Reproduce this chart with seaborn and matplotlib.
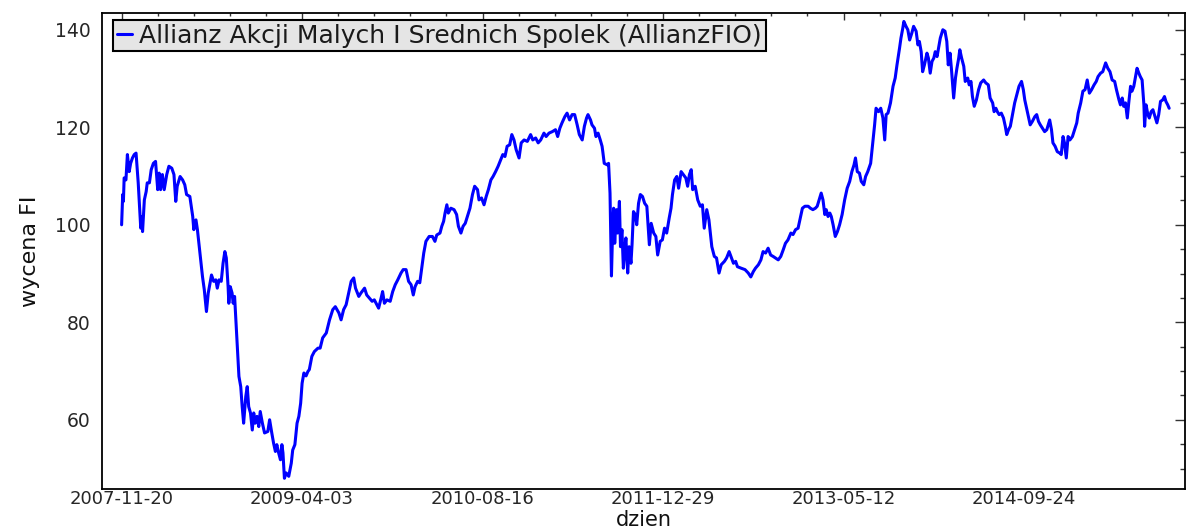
import matplotlib
matplotlib.use("Agg")
import matplotlib.pyplot as plt
import matplotlib.dates as mdates
from matplotlib.ticker import FixedLocator, MultipleLocator
import seaborn as sns
import pandas as pd

# wycena funduszu: dni od startu i wartosc
start = "2007-11-20"
dni = [
    0, 3, 5, 7, 12, 16, 21, 25, 30, 35, 40, 46, 53, 57, 58, 63, 68, 71, 77, 82,
    88, 94, 100, 104, 108, 113, 118, 125, 131, 139, 145, 150, 154, 162, 169, 175, 180, 189, 197, 200,
    206, 210, 217, 224, 229, 235, 240, 244, 249, 255, 261, 265, 270, 276, 281, 286, 290, 295, 297, 301,
    306, 309, 313, 318, 322, 325, 330, 334, 338, 344, 348, 352, 357, 362, 366, 370, 375, 380, 384, 390,
    396, 405, 410, 416, 421, 426, 430, 435, 440, 444, 447, 451, 456, 463, 470, 474, 480, 486, 491, 496,
    500, 505, 511, 516, 520, 527, 534, 544, 550, 557, 567, 576, 585, 592, 602, 608, 615, 622, 629, 636,
    643, 648, 657, 663, 673, 679, 686, 694, 700, 707, 712, 719, 723, 728, 735, 744, 751, 758, 765, 774,
    780, 788, 795, 802, 808, 813, 820, 826, 832, 837, 843, 852, 861, 868, 873, 882, 887, 892, 896, 901,
    905, 912, 921, 928, 933, 940, 946, 952, 958, 965, 972, 978, 986, 990, 997, 1004, 1010, 1016, 1023, 1029,
    1036, 1043, 1050, 1056, 1062, 1068, 1075, 1081, 1087, 1093, 1101, 1107, 1115, 1124, 1133, 1139, 1147, 1154, 1161, 1170,
    1176, 1184, 1193, 1202, 1208, 1214, 1220, 1228, 1234, 1241, 1248, 1255, 1262, 1268, 1276, 1282, 1288, 1292, 1299, 1303,
    1310, 1314, 1320, 1326, 1331, 1333, 1337, 1345, 1349, 1353, 1357, 1360, 1363, 1366, 1371, 1374, 1379, 1382, 1386, 1390,
    1393, 1397, 1402, 1406, 1411, 1414, 1418, 1423, 1427, 1432, 1437, 1443, 1449, 1455, 1462, 1467, 1474, 1480, 1485, 1492,
    1498, 1504, 1510, 1517, 1522, 1526, 1532, 1538, 1543, 1550, 1556, 1563, 1568, 1573, 1578, 1582, 1589, 1596, 1603, 1609,
    1614, 1621, 1627, 1635, 1642, 1648, 1655, 1661, 1670, 1676, 1683, 1688, 1695, 1701, 1706, 1716, 1727, 1736, 1743, 1750,
    1756, 1764, 1771, 1777, 1784, 1791, 1798, 1805, 1811, 1819, 1826, 1833, 1839, 1846, 1854, 1860, 1867, 1874, 1880, 1886,
    1893, 1902, 1908, 1915, 1922, 1927, 1934, 1938, 1943, 1948, 1952, 1957, 1962, 1966, 1971, 1977, 1983, 1989, 1996, 2003,
    2010, 2017, 2023, 2029, 2033, 2038, 2044, 2049, 2056, 2061, 2067, 2075, 2081, 2086, 2090, 2097, 2103, 2109, 2114, 2118,
    2123, 2130, 2137, 2143, 2148, 2155, 2159, 2164, 2167, 2173, 2178, 2183, 2189, 2194, 2201, 2206, 2210, 2215, 2219, 2224,
    2231, 2235, 2240, 2245, 2250, 2254, 2259, 2264, 2268, 2275, 2281, 2286, 2290, 2295, 2299, 2305, 2310, 2314, 2319, 2322,
    2327, 2333, 2337, 2344, 2348, 2353, 2357, 2362, 2368, 2374, 2380, 2388, 2394, 2401, 2406, 2413, 2417, 2422, 2426, 2431,
    2437, 2443, 2448, 2452, 2457, 2462, 2468, 2474, 2480, 2486, 2493, 2498, 2502, 2507, 2511, 2517, 2523, 2530, 2535, 2540,
    2545, 2551, 2557, 2563, 2567, 2571, 2576, 2580, 2586, 2592, 2599, 2603, 2608, 2612, 2617, 2622, 2627, 2634, 2640, 2646,
    2650, 2657, 2663, 2669, 2675, 2681, 2687, 2694, 2700, 2705, 2712, 2718, 2726, 2732, 2738, 2744, 2751, 2756, 2763, 2767,
    2772, 2776, 2781, 2786, 2790, 2795, 2799, 2804, 2809, 2813, 2818, 2822, 2827, 2832, 2834, 2838, 2843, 2847, 2852, 2857,
    2864, 2868, 2873, 2878, 2884, 2889, 2893, 2898, 2902,
]
wycena = [
    100.0, 106.2, 104.8, 109.6, 109.2, 114.4, 110.9, 112.6, 113.7, 114.4, 114.7, 108.6, 99.3, 101.7, 98.6, 105.1, 106.8, 108.6, 108.6, 111.3,
    112.6, 113.0, 107.2, 110.6, 107.2, 110.3, 107.2, 110.3, 112.0, 111.6, 110.3, 104.8, 107.9, 109.9, 109.2, 108.2, 106.2, 105.8, 101.7, 99.0,
    101.0, 99.0, 94.2, 89.4, 86.7, 82.2, 86.0, 87.7, 89.7, 88.4, 88.7, 87.0, 88.7, 88.4, 92.1, 94.5, 93.2, 87.3, 83.9, 87.3,
    86.0, 83.9, 85.3, 78.5, 73.0, 68.9, 66.8, 62.7, 59.3, 64.8, 66.8, 62.7, 61.4, 57.9, 61.4, 59.3, 60.7, 58.6, 61.7, 59.3,
    57.3, 57.6, 60.0, 57.3, 55.2, 53.5, 54.9, 53.2, 51.8, 54.9, 53.2, 48.0, 49.1, 48.4, 51.1, 53.8, 54.9, 59.3, 60.7, 63.4,
    67.5, 69.6, 69.0, 69.9, 70.3, 73.0, 74.0, 74.7, 74.7, 76.8, 77.8, 80.5, 82.6, 83.2, 81.9, 80.5, 82.6, 83.6, 86.0, 88.4,
    89.1, 87.0, 85.3, 86.0, 87.0, 85.6, 85.0, 84.3, 84.6, 83.6, 82.9, 85.0, 86.3, 83.9, 84.6, 84.3, 86.3, 87.7, 88.7, 90.1,
    90.8, 90.8, 88.4, 87.7, 85.6, 87.3, 88.4, 88.1, 91.4, 94.2, 96.6, 97.6, 97.6, 96.6, 97.9, 98.3, 99.7, 100.7, 102.4, 104.1,
    102.4, 103.4, 103.1, 102.1, 99.7, 98.3, 99.7, 100.3, 101.7, 103.4, 106.2, 107.9, 107.2, 105.1, 105.5, 104.1, 105.8, 107.2, 109.2, 109.9,
    110.9, 112.0, 113.3, 114.4, 114.0, 116.1, 116.4, 118.5, 117.4, 115.4, 113.7, 116.8, 117.4, 117.1, 118.5, 117.4, 117.8, 116.8, 117.4, 118.8,
    118.1, 118.8, 119.1, 119.5, 118.1, 119.8, 120.9, 122.2, 122.9, 121.5, 122.6, 122.6, 120.5, 118.5, 117.4, 120.2, 121.9, 122.6, 121.5, 120.5,
    119.8, 118.1, 118.8, 117.4, 116.1, 115.0, 112.6, 112.3, 112.6, 106.5, 89.5, 98.3, 103.4, 96.2, 103.1, 98.3, 104.8, 95.5, 99.0, 91.1,
    94.2, 97.3, 90.1, 95.5, 92.1, 95.9, 102.7, 102.1, 100.0, 104.4, 106.2, 105.8, 104.4, 103.8, 95.9, 100.3, 98.3, 97.6, 93.8, 96.6,
    96.9, 99.3, 98.3, 101.4, 103.4, 106.2, 109.2, 109.9, 107.5, 110.9, 110.3, 109.6, 107.9, 110.3, 111.3, 107.2, 107.9, 105.1, 103.8, 104.1,
    99.3, 103.1, 101.0, 95.5, 93.5, 93.2, 90.1, 91.8, 92.5, 93.2, 94.5, 93.5, 92.1, 92.5, 91.4, 91.1, 90.8, 90.1, 89.3, 90.4,
    91.1, 91.8, 92.8, 94.5, 94.2, 95.2, 93.8, 93.5, 93.2, 92.8, 93.5, 94.9, 96.2, 96.9, 98.3, 98.0, 99.0, 99.3, 101.4, 103.4,
    103.8, 103.8, 103.4, 103.1, 103.4, 103.8, 105.5, 106.5, 105.1, 102.1, 103.1, 101.7, 102.4, 101.7, 100.0, 97.6, 98.6, 100.0, 102.1, 105.1,
    107.5, 108.9, 110.9, 112.3, 113.7, 110.9, 110.6, 108.9, 108.2, 109.9, 110.9, 112.6, 116.8, 120.5, 123.9, 123.2, 123.9, 121.9, 117.4, 122.6,
    122.9, 125.0, 128.4, 130.1, 132.8, 136.2, 138.3, 140.3, 141.7, 140.7, 140.0, 137.9, 139.3, 140.7, 139.7, 136.9, 137.6, 135.5, 131.4, 132.8,
    135.2, 134.2, 131.1, 133.5, 134.2, 135.5, 134.5, 136.6, 138.3, 140.0, 139.7, 137.6, 132.8, 135.2, 131.8, 126.0, 130.1, 132.1, 134.2, 135.9,
    134.2, 132.5, 129.4, 130.1, 128.7, 129.4, 126.3, 124.3, 125.6, 127.7, 129.1, 129.7, 129.1, 128.7, 126.0, 125.0, 123.2, 123.9, 123.2, 122.6,
    122.9, 121.9, 120.2, 118.5, 119.5, 120.2, 122.6, 125.0, 126.7, 128.4, 129.4, 127.7, 125.6, 123.9, 122.6, 120.5, 121.2, 122.2, 122.6, 121.2,
    120.5, 119.8, 119.1, 119.5, 120.5, 121.5, 119.5, 116.8, 116.1, 115.0, 114.7, 114.4, 118.1, 116.8, 113.7, 118.1, 117.4, 118.1, 119.5, 120.9,
    122.9, 125.0, 127.4, 127.7, 129.7, 127.0, 127.7, 128.7, 129.4, 130.4, 131.1, 131.4, 133.2, 132.1, 131.4, 129.7, 129.4, 127.7, 125.6, 124.6,
    126.0, 124.3, 125.0, 121.9, 125.0, 128.4, 127.4, 128.4, 130.4, 132.1, 131.1, 130.4, 129.7, 124.6, 120.2, 124.6, 122.6, 121.9, 123.2, 123.6,
    121.9, 120.9, 122.6, 125.3, 125.6, 126.3, 125.3, 124.6, 123.9,
]
nazwa = "Allianz Akcji Malych I Srednich Spolek (AllianzFIO)"
krok_dni = 500
y_ticks = [60, 80, 100, 120, 140]

sns.set_style("white")
plt.rcParams["font.family"] = ["DejaVu Sans"]

t0 = pd.Timestamp(start)
df = pd.DataFrame({"dzien": t0 + pd.to_timedelta(dni, unit="D"), "wycena": wycena})

fig = plt.figure(figsize=(11.86, 5.29), dpi=100)
ax = fig.add_axes([0.0858, 0.0756, 0.9134, 0.9004])
sns.lineplot(data=df, x="dzien", y="wycena", color="#0000ff", lw=2.2,
             label=nazwa, ax=ax)

ax.set_xlim(t0 - pd.Timedelta(days=55), t0 + pd.Timedelta(days=2946))
ax.set_ylim(45.8, 143.5)

major = [t0 + pd.Timedelta(days=krok_dni * k) for k in range(6)]
minor = [t0 + pd.Timedelta(days=100 * k) for k in range(30)]
ax.xaxis.set_major_locator(FixedLocator(mdates.date2num(major)))
ax.xaxis.set_minor_locator(FixedLocator(mdates.date2num(minor)))
ax.xaxis.set_major_formatter(mdates.DateFormatter("%Y-%m-%d"))
ax.yaxis.set_major_locator(FixedLocator(y_ticks))
ax.yaxis.set_minor_locator(MultipleLocator(5))

for s in ax.spines.values():
    s.set_visible(True)
    s.set_color("black")
    s.set_linewidth(1.3)

ax.tick_params(which="both", direction="in", top=True, right=True,
               colors="#333333", labelcolor="#262626", width=1)
ax.tick_params(axis="y", which="major", length=7, labelsize=13.5, pad=8)
ax.tick_params(axis="y", which="minor", length=3.5)
ax.tick_params(axis="x", which="major", length=5, labelsize=13, pad=1)
ax.tick_params(axis="x", which="minor", length=2.5)

ax.set_xlabel("dzien", fontsize=15, color="#111111", va="bottom")
ax.xaxis.set_label_coords(0.5, -0.087)
ax.set_ylabel("wycena FI", fontsize=16, color="#111111")
ax.yaxis.set_label_coords(-0.057, 0.5)

leg = ax.legend(loc="upper left", bbox_to_anchor=(0.0105, 0.985), borderaxespad=0,
                fontsize=18, frameon=True, fancybox=False, edgecolor="black",
                facecolor="#e5e5e5", framealpha=1, handlelength=0.6,
                handletextpad=0.3, borderpad=0.15)
leg.get_frame().set_linewidth(1.5)
for t in leg.get_texts():
    t.set_color("#1a1a1a")

fig.savefig("out.png", dpi=100)
